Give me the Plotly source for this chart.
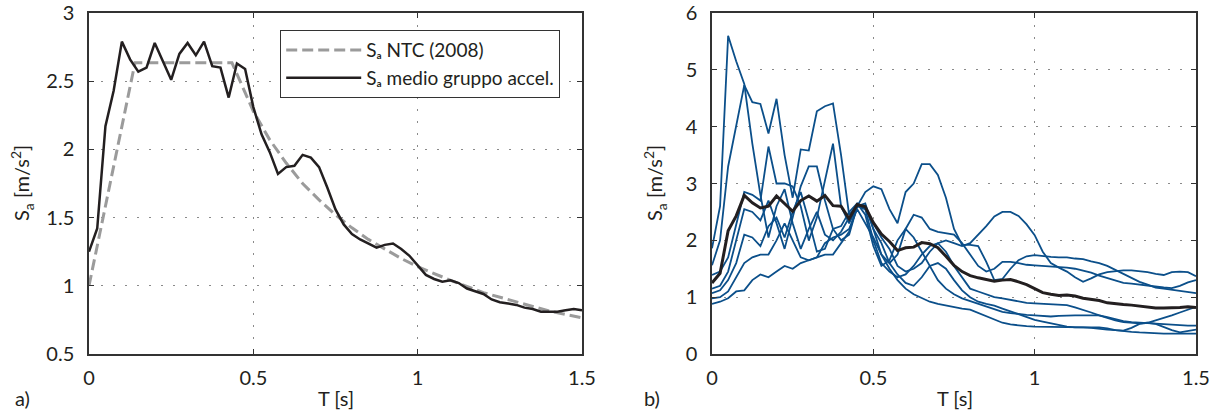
import plotly.graph_objects as go

# ---------------- data ----------------
T = [round(i * 0.025, 3) for i in range(61)]

sa_mean = [1.25, 1.42, 2.17, 2.43, 2.79, 2.66, 2.57, 2.60, 2.78, 2.65,
           2.51, 2.70, 2.78, 2.69, 2.79, 2.61, 2.60, 2.38, 2.63, 2.59,
           2.31, 2.11, 1.98, 1.82, 1.87, 1.88, 1.96, 1.94, 1.87, 1.72,
           1.56, 1.45, 1.38, 1.34, 1.31, 1.28, 1.30, 1.31, 1.27, 1.22,
           1.15, 1.08, 1.05, 1.03, 1.04, 1.02, 0.98, 0.96, 0.94, 0.90,
           0.88, 0.87, 0.86, 0.84, 0.83, 0.81, 0.81, 0.81, 0.82, 0.83, 0.82]

T_ntc = [0.0, 0.14, 0.435, 0.5, 0.55, 0.6, 0.65, 0.7, 0.75, 0.8, 0.85, 0.9,
         0.95, 1.0, 1.1, 1.2, 1.3, 1.4, 1.5]
sa_ntc = [1.00, 2.635, 2.635, 2.28, 2.07, 1.90, 1.75, 1.63, 1.52, 1.425, 1.34,
          1.27, 1.20, 1.14, 1.04, 0.95, 0.88, 0.815, 0.765]

rec1 = [1.86, 2.60, 5.60, 5.15, 4.75, 3.70, 2.80, 2.05, 2.60, 2.90,
        2.30, 1.85, 2.20, 2.50, 2.10, 2.00, 2.15, 2.40, 2.60, 2.85,
        2.95, 2.90, 2.55, 2.30, 2.85, 3.00, 3.34, 3.34, 3.15, 2.75,
        2.20, 1.92, 1.92, 1.90, 1.62, 1.30, 1.32, 1.50, 1.65, 1.72,
        1.74, 1.72, 1.71, 1.70, 1.70, 1.68, 1.67, 1.63, 1.60, 1.55,
        1.48, 1.42, 1.35, 1.27, 1.22, 1.17, 1.15, 1.13, 1.12, 1.10, 1.07]
rec2 = [1.56, 2.00, 3.30, 4.00, 4.73, 4.43, 4.40, 3.88, 4.49, 3.50,
        2.75, 3.60, 3.58, 4.27, 4.36, 4.41, 3.50, 2.45, 2.62, 2.55,
        2.30, 2.05, 1.85, 1.55, 1.45, 1.50, 1.60, 1.80, 1.95, 2.00,
        1.95, 1.90, 1.95, 2.10, 2.25, 2.42, 2.50, 2.50, 2.43, 2.28,
        2.09, 1.80, 1.60, 1.52, 1.45, 1.35, 1.27, 1.33, 1.40, 1.44,
        1.46, 1.47, 1.47, 1.46, 1.44, 1.41, 1.39, 1.44, 1.45, 1.44, 1.37]
rec3 = [1.39, 1.45, 1.70, 2.30, 2.85, 2.80, 2.70, 3.65, 3.00, 3.00,
        2.95, 2.60, 2.00, 2.40, 3.05, 3.70, 2.60, 2.30, 2.60, 2.65,
        2.20, 1.75, 1.60, 1.75, 2.20, 2.45, 2.40, 2.20, 2.15, 2.12,
        2.10, 1.95, 1.75, 1.55, 1.45, 1.50, 1.62, 1.62, 1.60, 1.57,
        1.56, 1.55, 1.55, 1.53, 1.52, 1.50, 1.47, 1.43, 1.38, 1.34,
        1.29, 1.25, 1.24, 1.22, 1.21, 1.19, 1.17, 1.16, 1.20, 1.26, 1.30]
rec4 = [1.15, 1.20, 1.45, 2.00, 2.55, 2.50, 2.35, 2.70, 2.30, 1.85,
        2.40, 2.95, 3.30, 3.30, 2.70, 2.20, 2.00, 2.10, 2.60, 2.55,
        2.00, 1.60, 1.45, 1.35, 1.40, 1.55, 1.75, 1.90, 1.95, 1.80,
        1.55, 1.35, 1.15, 1.10, 1.05, 1.00, 0.98, 0.95, 0.92, 0.90,
        0.89, 0.88, 0.87, 0.86, 0.86, 0.82, 0.78, 0.73, 0.68, 0.63,
        0.59, 0.56, 0.55, 0.54, 0.55, 0.59, 0.63, 0.68, 0.73, 0.78, 0.83]
rec5 = [1.07, 1.12, 1.30, 1.60, 2.10, 2.05, 1.90, 2.25, 2.40, 2.05,
        2.50, 2.85, 2.35, 1.80, 1.85, 2.20, 2.25, 2.50, 2.65, 2.45,
        1.90, 1.55, 1.65, 2.00, 2.20, 2.05, 1.80, 1.55, 1.30, 1.15,
        1.05, 0.98, 0.93, 0.88, 0.83, 0.78, 0.74, 0.72, 0.70, 0.69,
        0.68, 0.67, 0.66, 0.67, 0.68, 0.68, 0.68, 0.68, 0.68, 0.65,
        0.61, 0.58, 0.56, 0.55, 0.54, 0.53, 0.52, 0.51, 0.51, 0.50, 0.50]
rec6 = [0.98, 1.00, 1.10, 1.35, 1.60, 1.70, 1.75, 1.75, 2.00, 2.30,
        2.00, 1.70, 1.65, 1.70, 1.75, 1.75, 1.95, 2.15, 2.60, 2.60,
        2.20, 1.95, 1.60, 1.40, 1.25, 1.20, 1.35, 1.55, 1.60, 1.50,
        1.30, 1.12, 1.00, 0.92, 0.88, 0.85, 0.80, 0.75, 0.70, 0.65,
        0.60, 0.57, 0.54, 0.50, 0.48, 0.47, 0.47, 0.47, 0.47, 0.45,
        0.42, 0.41, 0.46, 0.53, 0.55, 0.53, 0.47, 0.42, 0.38, 0.40, 0.43]
rec7 = [0.88, 0.92, 0.98, 1.10, 1.12, 1.30, 1.40, 1.35, 1.45, 1.55,
        1.50, 1.60, 1.65, 1.70, 1.95, 2.05, 2.10, 2.20, 2.55, 2.30,
        2.05, 1.75, 1.50, 1.30, 1.15, 1.05, 0.98, 0.92, 0.88, 0.85,
        0.82, 0.80, 0.78, 0.72, 0.66, 0.60, 0.55, 0.52, 0.50, 0.49,
        0.48, 0.48, 0.48, 0.48, 0.48, 0.48, 0.47, 0.46, 0.44, 0.43,
        0.42, 0.40, 0.39, 0.38, 0.37, 0.36, 0.36, 0.36, 0.36, 0.36, 0.36]
records = [rec1, rec2, rec3, rec4, rec5, rec6, rec7]

x_ticks = [0, 0.5, 1, 1.5]
y_ticks_a = [0.5, 1, 1.5, 2, 2.5, 3]
y_ticks_b = [0, 1, 2, 3, 4, 5, 6]

# ---------------- style ----------------
FONT = "Lato"
DARK = "#231f20"
BLUE = "#0b4f8a"
GREY = "#9b9b9b"
W, H = 1221, 414

fig = go.Figure()

# panel a
fig.add_trace(go.Scatter(x=T_ntc, y=sa_ntc, mode="lines", xaxis="x", yaxis="y",
                         name="S\u2090 NTC (2008)",
                         line=dict(color=GREY, width=3, dash="11px,5px")))
fig.add_trace(go.Scatter(x=T, y=sa_mean, mode="lines", xaxis="x", yaxis="y",
                         name="S\u2090 medio gruppo accel.",
                         line=dict(color=DARK, width=2.5)))

# panel b
for r in records:
    fig.add_trace(go.Scatter(x=T, y=r, mode="lines", xaxis="x2", yaxis="y2",
                             showlegend=False, line=dict(color=BLUE, width=1.8)))
fig.add_trace(go.Scatter(x=T, y=sa_mean, mode="lines", xaxis="x2", yaxis="y2",
                         showlegend=False, line=dict(color=DARK, width=3)))

def px_x(p):
    return p / W

def px_y(p):
    return 1 - p / H

axis_common = dict(showline=True, linecolor="#333333", linewidth=1.5, mirror="ticks",
                   ticks="inside", ticklen=5, tickcolor="#333333", tickwidth=1,
                   showgrid=True, gridcolor="#8a8a8a", gridwidth=1, griddash="2px,10px",
                   zeroline=False, automargin=False,
                   tickfont=dict(family=FONT, size=20, color=DARK),
                   fixedrange=True)

fig.update_layout(
    template="none",
    width=W, height=H,
    margin=dict(l=0, r=0, t=0, b=0, pad=0),
    paper_bgcolor="white", plot_bgcolor="white",
    font=dict(family=FONT, color=DARK),
    xaxis=dict(domain=[px_x(89), px_x(582)], range=[0, 1.5], tickvals=x_ticks,
               anchor="y", ticklabelstandoff=5, **axis_common),
    yaxis=dict(domain=[px_y(354), px_y(13)], range=[0.5, 3], tickvals=y_ticks_a,
               anchor="x", ticklabelstandoff=9, **axis_common),
    xaxis2=dict(domain=[px_x(712), px_x(1196)], range=[0, 1.5], tickvals=x_ticks,
                anchor="y2", ticklabelstandoff=5, **axis_common),
    yaxis2=dict(domain=[px_y(354), px_y(13)], range=[0, 6], tickvals=y_ticks_b,
                anchor="x2", ticklabelstandoff=9, **axis_common),
    legend=dict(x=px_x(280), y=px_y(30), xanchor="left", yanchor="top",
                bgcolor="white", bordercolor="#333333", borderwidth=1.2,
                font=dict(family=FONT, size=19, color=DARK),
                tracegroupgap=0, itemwidth=75),
    showlegend=True,
)

ann_font = dict(family=FONT, size=20, color=DARK)
annotations = [
    dict(text="a)", x=px_x(22), y=px_y(398)),
    dict(text="T [s]", x=px_x(336), y=px_y(398)),
    dict(text="b)", x=px_x(652), y=px_y(398)),
    dict(text="T [s]", x=px_x(955), y=px_y(398)),
    dict(text="S<sub>a</sub> [m/s<sup>2</sup>]", x=px_x(22), y=px_y(183), textangle=-90),
    dict(text="S<sub>a</sub> [m/s<sup>2</sup>]", x=px_x(655), y=px_y(183), textangle=-90),
]
for a in annotations:
    fig.add_annotation(xref="paper", yref="paper", showarrow=False,
                       xanchor="center", yanchor="middle", font=ann_font, **a)

fig.write_html("out.html")
